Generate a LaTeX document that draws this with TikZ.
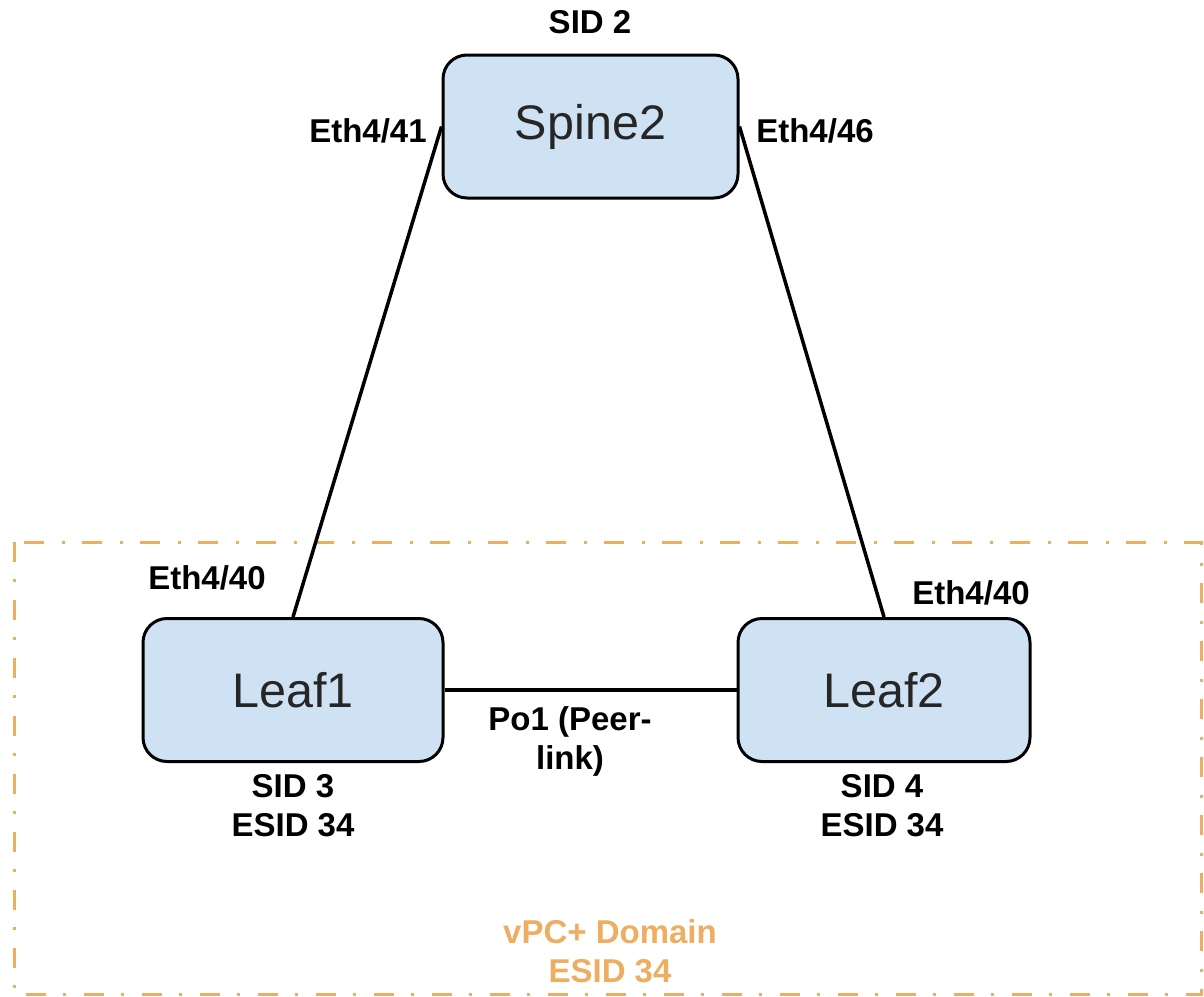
\documentclass[tikz,border=0pt]{standalone}
\usepackage{fontspec}
\setmainfont{Liberation Sans}
\definecolor{boxblue}{HTML}{CFE2F3}
\definecolor{domorange}{HTML}{EDAE62}
\begin{document}
\begin{tikzpicture}[x=1pt,y=-1pt,
  device/.style={draw=black, line width=3pt, fill=boxblue, rounded corners=24pt,
    minimum width=295pt, minimum height=143pt, inner sep=0pt,
    font=\fontsize{48.5}{54}\selectfont, text=black!85},
  lbl/.style={font=\bfseries\fontsize{33}{39}\selectfont, align=center, inner sep=0pt},
  link/.style={line width=3.5pt, draw=black}]
\useasboundingbox (0,0) rectangle (1204,996);
\draw[domorange, line width=3pt, dash pattern=on 20pt off 17pt on 3pt off 18pt]
  (14,542) rectangle (1201,994);
\node[device] (Spine2) at (590.5,126.5) {Spine2};
\node[device, minimum width=300pt] (Leaf1) at (293,690) {Leaf1};
\node[device, minimum width=292pt] (Leaf2) at (884,690) {Leaf2};
\draw[link] (Spine2.west) -- (Leaf1.north);
\draw[link] (Spine2.east) -- (Leaf2.north);
\draw[link] (Leaf1.east) -- (Leaf2.west);
\node[lbl] (sid2) at (590,22) {SID 2};
\node[lbl] (e441) at (368,131) {Eth4/41};
\node[lbl] (e446) at (815,131) {Eth4/46};
\node[lbl] (e440a) at (207,578) {Eth4/40};
\node[lbl] (e440b) at (971,593) {Eth4/40};
\node[lbl] (po1) at (570,741) {Po1 (Peer-\\link)};
\node[lbl] (sid3) at (293,806) {SID 3\\ESID 34};
\node[lbl] (sid4) at (882,806) {SID 4\\ESID 34};
\node[lbl, text=domorange] (dom) at (610,951) {vPC+ Domain\\ESID 34};
\end{tikzpicture}
\end{document}
